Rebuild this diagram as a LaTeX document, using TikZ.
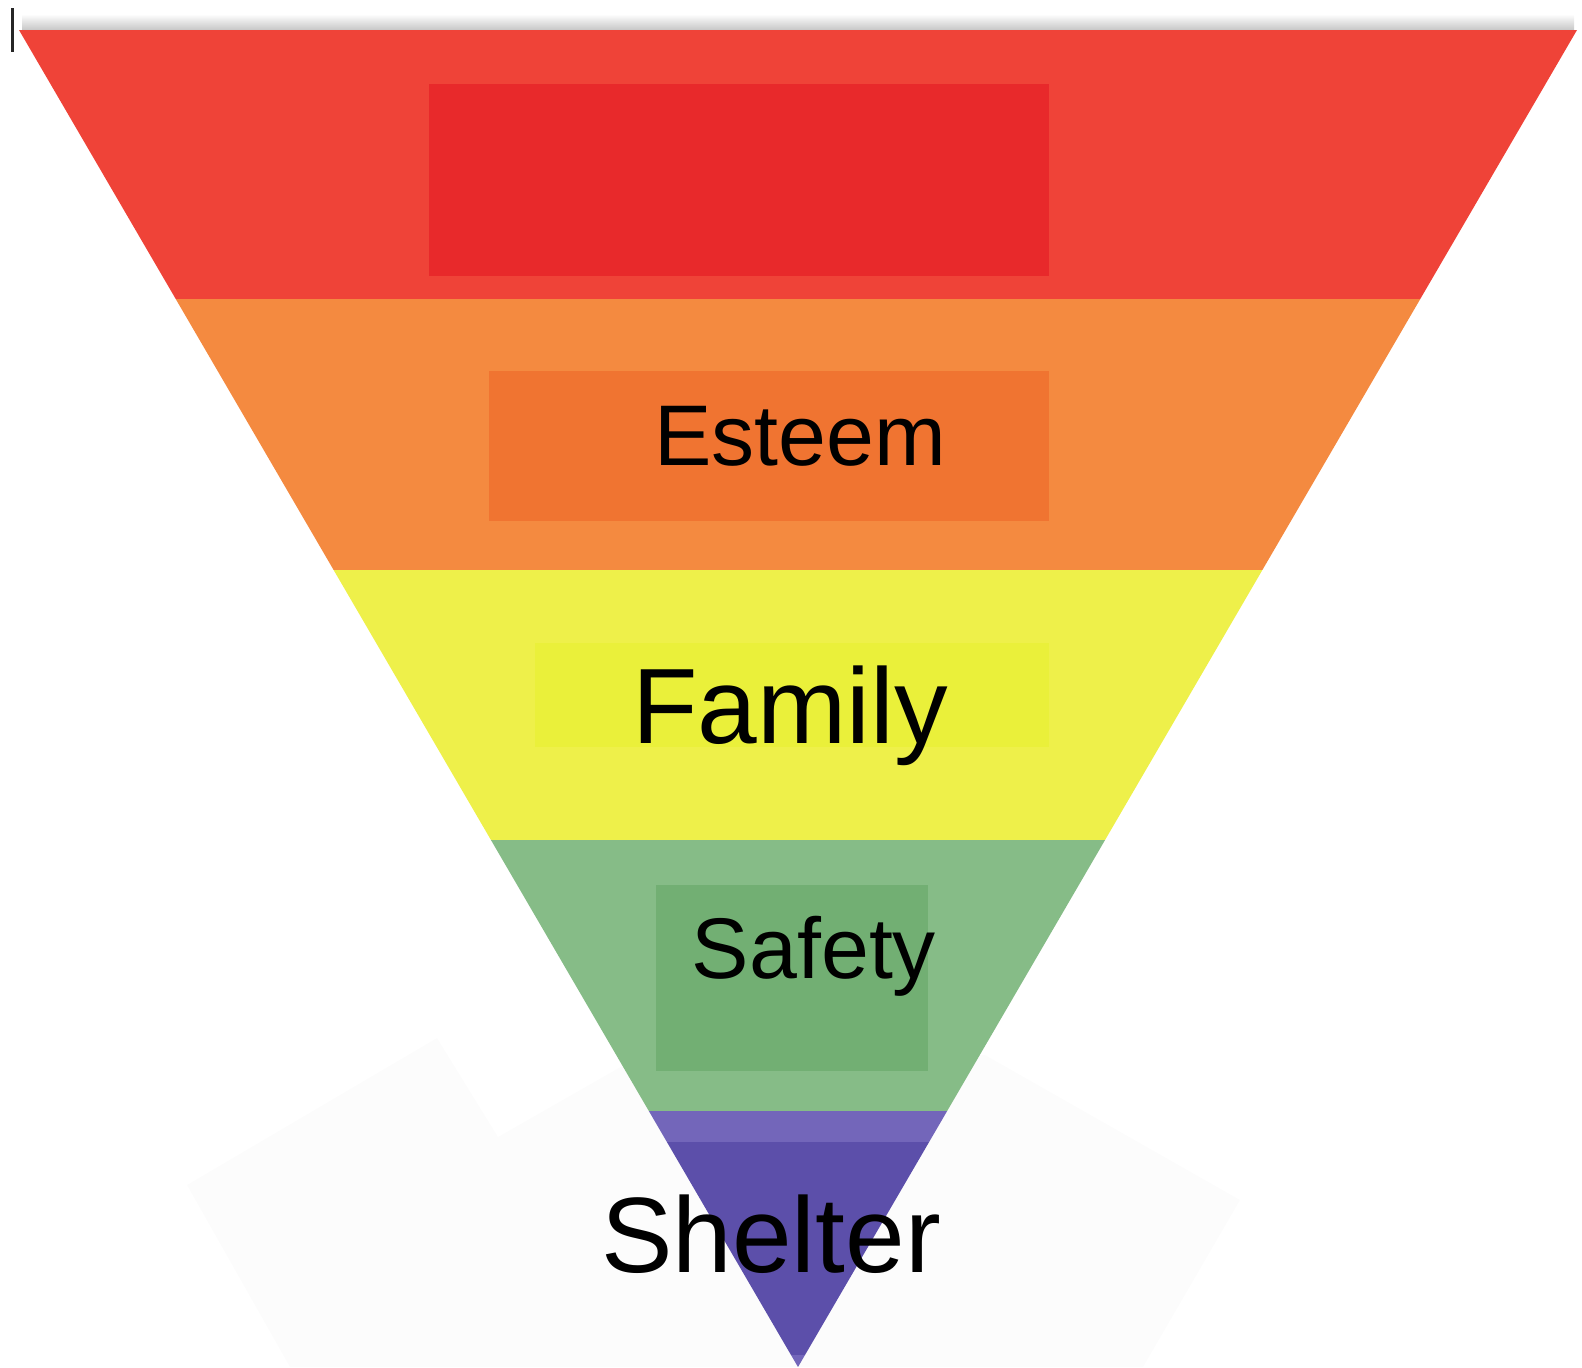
\documentclass[tikz,border=0pt]{standalone}
\usepackage{fontspec}
\setmainfont{Liberation Sans}
\definecolor{redband}{HTML}{EF4338}
\definecolor{redbox}{HTML}{E8292B}
\definecolor{orangeband}{HTML}{F48A40}
\definecolor{orangebox}{HTML}{F07431}
\definecolor{yellowband}{HTML}{EEF04A}
\definecolor{yellowbox}{HTML}{EAF03A}
\definecolor{greenband}{HTML}{86BC87}
\definecolor{greenbox}{HTML}{72AF73}
\definecolor{purplelight}{HTML}{7366BA}
\definecolor{purpleband}{HTML}{5C4FAA}
\definecolor{backdrop}{HTML}{FCFCFC}

\begin{document}
\begin{tikzpicture}[x=0.02cm, y=-0.02cm,
  every node/.style={inner sep=0pt, anchor=base, text=black},
  smalltext/.style={font=\fontsize{49}{59}\selectfont},
  bigtext/.style={font=\fontsize{61}{73}\selectfont}]

  \useasboundingbox (0,0) rectangle (1582,1367);

  % faint shape behind the tip
  \fill[backdrop] (187,1185) -- (437,1038) -- (498,1137) -- (624,1065) -- (985,1055)
    -- (1240,1200) -- (1143,1367) -- (290,1367) -- cycle;

  \shade[top color=white, bottom color=black!22] (22,14) rectangle (1574,30);
  \fill[black!85] (11,8) rectangle (14,52);

  \begin{scope}
    \clip (19,30) -- (1577,30) -- (798,1367) -- cycle;
    \fill[redband] (0,30) rectangle (1582,299);
    \fill[orangeband] (0,299) rectangle (1582,570);
    \fill[yellowband] (0,570) rectangle (1582,840);
    \fill[greenband] (0,840) rectangle (1582,1111);
    \fill[purplelight] (0,1111) rectangle (1582,1142);
    \fill[purpleband] (0,1142) rectangle (1582,1355);
    \fill[purplelight] (0,1355) rectangle (1582,1367);
  \end{scope}

  \fill[redbox] (429,84) rectangle (1049,276);
  \fill[orangebox] (489,371) rectangle (1049,521);
  \fill[yellowbox] (535,643) rectangle (1049,747);
  \fill[greenbox] (656,885) rectangle (928,1071);

  \node[smalltext] (esteem) at (800,465) {Esteem};
  \node[bigtext] (family) at (790,743) {Family};
  \node[smalltext] (safety) at (814,978) {Safety};
  \node[bigtext] (shelter) at (771,1272) {Shelter};
\end{tikzpicture}
\end{document}
